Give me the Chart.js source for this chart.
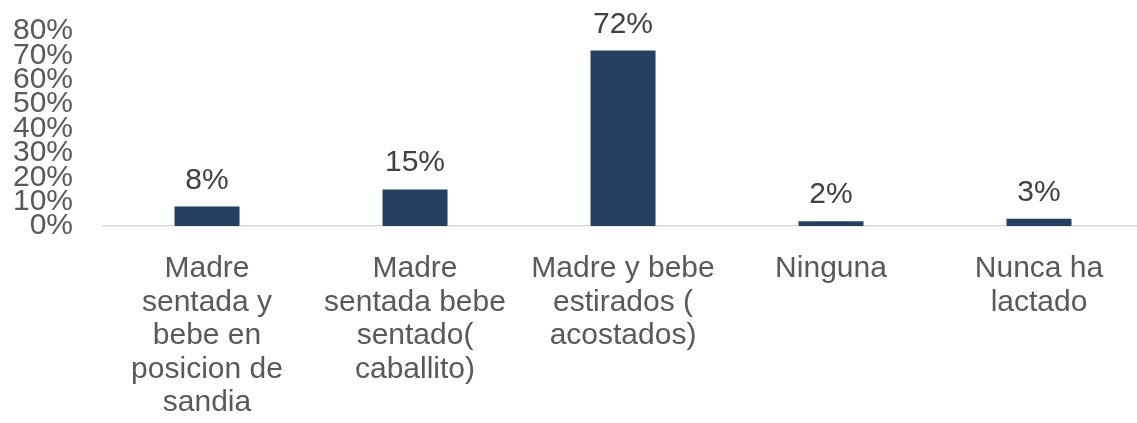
<!DOCTYPE html>
<html>
<head>
<meta charset="utf-8">
<script src="https://cdn.jsdelivr.net/npm/chart.js@4/dist/chart.umd.min.js"></script>
<style>
    html, body { margin: 0; padding: 0; background: #fff; overflow: hidden; }
    #wrap { width: 1143px; height: 423px; position: relative; }
</style>
</head>
<body>
<div id="wrap"><canvas id="posture-chart"></canvas></div>
<script>
// /------------ Chart data ------------/
const categories = [
    ['Madre', 'sentada y', 'bebe en', 'posicion de', 'sandia'],
    ['Madre', 'sentada bebe', 'sentado(', 'caballito)'],
    ['Madre y bebe', 'estirados (', 'acostados)'],
    ['Ninguna'],
    ['Nunca ha', 'lactado']
];
const shares = [0.08, 0.15, 0.72, 0.02, 0.03];
const yTicks = [0, 0.1, 0.2, 0.3, 0.4, 0.5, 0.6, 0.7, 0.8];

const fontFamily = "'Liberation Sans', Arial, sans-serif";
const pct = v => Math.round(v * 100) + '%';

// /------------ Labels above bars ------------/
const barLabels = {
    id: 'barLabels',
    afterDatasetsDraw(chart) {
        const ctx = chart.ctx;
        const meta = chart.getDatasetMeta(0);
        ctx.save();
        ctx.font = '30px ' + fontFamily;
        ctx.fillStyle = '#404040';
        ctx.textAlign = 'center';
        ctx.textBaseline = 'alphabetic';
        meta.data.forEach((bar, i) => {
            ctx.fillText(pct(shares[i]), bar.x, bar.y - 18);
        });
        ctx.restore();
    }
};

const postureChart = new Chart(document.querySelector('#posture-chart').getContext('2d'), {
    type: 'bar',
    data: {
        labels: categories,
        datasets: [{
            data: shares,
            backgroundColor: '#243F60',
            borderWidth: 0,
            barPercentage: 1,
            categoryPercentage: 0.3125
        }]
    },
    options: {
        responsive: true,
        maintainAspectRatio: false,
        animation: false,
        layout: {
            padding: { left: 11, right: 0, top: 31, bottom: 0 }
        },
        scales: {
            y: {
                min: 0,
                max: 0.8,
                afterBuildTicks: axis => {
                    axis.ticks = yTicks.map(v => ({ value: v }));
                },
                afterFit: axis => {
                    axis.width = 92;
                    axis.paddingTop = 0;
                    axis.paddingBottom = 0;
                },
                grid: { display: false, drawTicks: false },
                border: { display: false },
                ticks: {
                    autoSkip: false,
                    padding: 30,
                    color: '#595959',
                    font: { family: fontFamily, size: 30 },
                    callback: v => pct(v)
                }
            },
            x: {
                afterFit: axis => { axis.height = 197; },
                grid: { display: false, drawTicks: false },
                border: { display: true, color: '#D9D9D9', width: 1.5 },
                ticks: {
                    autoSkip: false,
                    maxRotation: 0,
                    padding: 26,
                    color: '#595959',
                    font: { family: fontFamily, size: 30, lineHeight: 1.12 }
                }
            }
        },
        plugins: {
            legend: { display: false },
            tooltip: { enabled: false }
        }
    },
    plugins: [barLabels]
});
</script>
</body>
</html>
